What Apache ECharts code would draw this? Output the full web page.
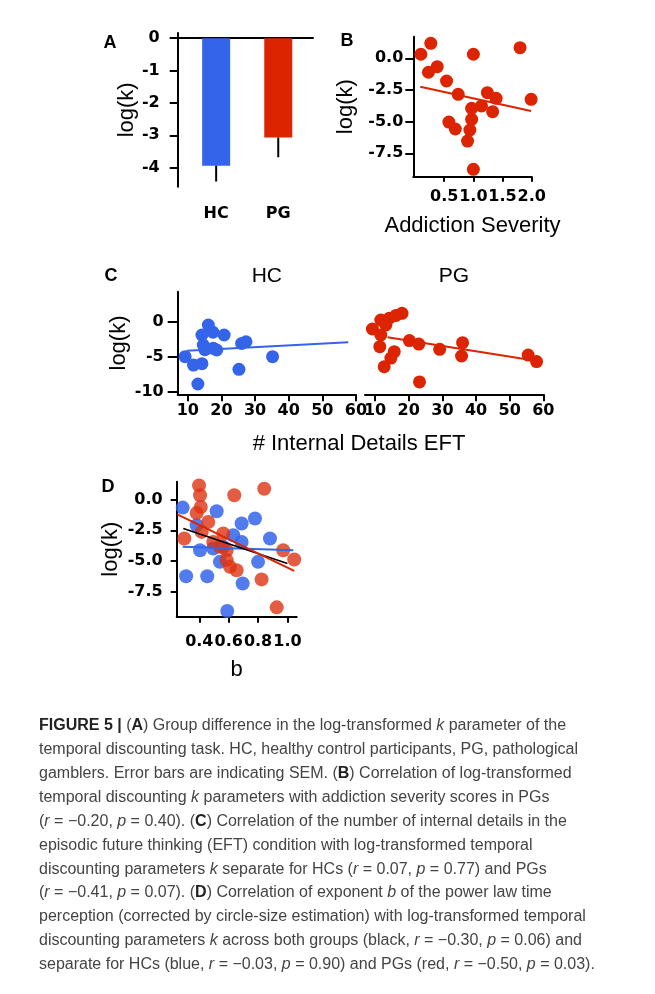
<!DOCTYPE html>
<html><head><meta charset="utf-8">
<script src="https://cdn.jsdelivr.net/npm/echarts@6/dist/echarts.min.js"></script>
<style>html,body{margin:0;padding:0;background:#fff}#c{width:655px;height:994px}</style>
</head><body><div id="c"></div>
<script>
// ---------- DATA ----------
// Panel A: group means of log(k) with SEM
const groups = ['HC', 'PG'];
const meanLogK = [-3.94, -3.07];
const semLogK = [0.49, 0.61];

// Panel B: addiction severity vs log(k) (PG)
const sevX = [0.10, 0.27, 0.23, 0.38, 0.54, 0.74, 1.00, 1.80, 1.99, 1.24, 1.39, 1.33, 1.14, 0.97, 0.97, 0.94, 0.90, 0.58, 0.69, 1.00];
const sevY = [0.32, 1.18, -1.10, -0.66, -1.79, -2.84, 0.32, 0.84, -3.24, -2.71, -3.16, -4.21, -3.76, -3.95, -4.82, -5.66, -6.53, -5.03, -5.58, -8.76];
const sevFitX = [0.09, 1.99];
const sevFitY = [-2.24, -4.16];

// Panel C: # internal details EFT vs log(k)
const hcEftX = [16.1, 14.2, 17.5, 20.8, 14.6, 17.6, 18.6, 15.1, 26.0, 27.3, 35.2, 9.2, 11.7, 14.2, 25.2, 13.0];
const hcEftY = [-0.47, -1.9, -1.5, -1.9, -3.33, -3.8, -4.04, -4.0, -3.1, -2.86, -5.0, -5.0, -6.2, -6.0, -6.8, -8.9];
const hcEftFitX = [9.7, 57.7];
const hcEftFitY = [-4.14, -2.95];
const pgEftX = [18.0, 16.2, 14.2, 11.7, 13.2, 9.2, 11.7, 11.4, 20.2, 23.0, 29.2, 36.0, 35.7, 55.5, 58.0, 15.7, 14.7, 12.7, 23.2];
const pgEftY = [1.2, 0.9, 0.5, 0.24, -0.47, -1.04, -1.9, -3.57, -2.7, -3.2, -3.95, -3.0, -4.9, -4.76, -5.7, -4.28, -5.2, -6.43, -8.6];
const pgEftFitX = [13.7, 58.2];
const pgEftFitY = [-2.23, -5.6];

// Panel D: exponent b vs log(k)
const bHcX = [0.287, 0.518, 0.688, 0.779, 0.382, 0.631, 0.688, 0.881, 0.405, 0.495, 0.563, 0.54, 0.80, 0.31, 0.454, 0.695, 0.59];
const bHcY = [-0.65, -0.95, -1.95, -1.54, -2.09, -2.9, -3.45, -3.17, -4.12, -3.98, -3.85, -5.07, -5.07, -6.24, -6.24, -6.83, -9.08];
const bPgX = [0.398, 0.405, 0.638, 0.842, 0.41, 0.382, 0.461, 0.298, 0.416, 0.563, 0.495, 0.54, 0.586, 0.586, 0.609, 0.654, 0.824, 0.971, 1.046, 0.927];
const bPgY = [1.16, 0.35, 0.35, 0.89, -0.6, -1.09, -1.82, -3.17, -2.63, -2.76, -3.45, -3.85, -4.12, -4.93, -5.48, -5.75, -6.5, -4.12, -4.88, -8.78];
const bAllFitX = [0.291, 1.0];
const bAllFitY = [-2.36, -5.2];
const bHcFitX = [0.287, 1.04];
const bHcFitY = [-3.85, -4.12];
const bPgFitX = [0.25, 1.046];
const bPgFitY = [-1.2, -5.8];

// Tick labels
const ticksA = [0, -1, -2, -3, -4];
const ticksBy = [0, -2.5, -5, -7.5];
const ticksBx = [0.5, 1.0, 1.5, 2.0];
const ticksCy = [0, -5, -10];
const ticksCx = [10, 20, 30, 40, 50, 60];
const ticksDy = [0, -2.5, -5, -7.5];
const ticksDx = [0.4, 0.6, 0.8, 1.0];

// Caption
const captionLines = [
  '{fb|FIGURE 5 |} ({b|A}) Group difference in the log-transformed {i|k} parameter of the',
  'temporal discounting task. HC, healthy control participants, PG, pathological',
  'gamblers. Error bars are indicating SEM. ({b|B}) Correlation of log-transformed',
  'temporal discounting {i|k} parameters with addiction severity scores in PGs',
  '({i|r} = \u22120.20, {i|p} = 0.40). ({b|C}) Correlation of the number of internal details in the',
  'episodic future thinking (EFT) condition with log-transformed temporal',
  'discounting parameters {i|k} separate for HCs ({i|r} = 0.07, {i|p} = 0.77) and PGs',
  '({i|r} = \u22120.41, {i|p} = 0.07). ({b|D}) Correlation of exponent {i|b} of the power law time',
  'perception (corrected by circle-size estimation) with log-transformed temporal',
  'discounting parameters {i|k} across both groups (black, {i|r} = \u22120.30, {i|p} = 0.06) and',
  'separate for HCs (blue, {i|r} = \u22120.03, {i|p} = 0.90) and PGs (red, {i|r} = \u22120.50, {i|p} = 0.03).'
];

// ---------- STYLE ----------
const BLUE = '#3464ea';
const RED = '#dc2400';
const FONT = "'Liberation Sans', Arial, sans-serif";
const TICKFONT = "'DejaVu Sans', sans-serif";
const zip = (xs, ys) => xs.map((x, i) => [x, ys[i]]);
const f1 = v => v.toFixed(1);
const f0 = v => String(v);

function axis(o) {
  return {
    type: 'value', gridIndex: o.grid, min: o.min, max: o.max, show: o.show !== false,
    axisLine: { show: true, onZero: false, lineStyle: { color: '#000', width: 2 } },
    axisTick: { show: !!o.ticks, length: o.tickLen || 7, customValues: o.ticks, lineStyle: { color: '#000', width: 2 } },
    axisLabel: { show: !!o.ticks, customValues: o.ticks, formatter: o.fmt, margin: o.margin, color: '#000',
      fontFamily: TICKFONT, fontWeight: 'bold', fontSize: 16 },
    splitLine: { show: false },
    name: o.name || '', nameLocation: 'middle', nameGap: o.nameGap || 0,
    nameTextStyle: { fontFamily: FONT, fontSize: 22, color: '#000' }
  };
}

const grids = [
  { left: 177.7, top: 33, width: 135.3, height: 153.7 },   // A frame
  { left: 185.1, top: 33, width: 124.2, height: 153.7 },   // A bars
  { left: 413.3, top: 36.7, width: 118.4, height: 140 },   // B
  { left: 177.7, top: 291.7, width: 178.3, height: 102.6 },// C HC
  { left: 365, top: 291.7, width: 178.3, height: 102.6 },  // C PG
  { left: 176.7, top: 481.7, width: 120, height: 135 }     // D
];

const xAxes = [
  { type: 'value', gridIndex: 0, min: 0, max: 1,
    axisLine: { show: true, onZero: true, lineStyle: { color: '#000', width: 2 } },
    axisTick: { show: false }, axisLabel: { show: false }, splitLine: { show: false } },
  { type: 'category', gridIndex: 1, data: groups,
    axisLine: { show: false }, axisTick: { show: false },
    axisLabel: { margin: 19, color: '#000', fontFamily: TICKFONT, fontWeight: 'bold', fontSize: 16 } },
  axis({ grid: 2, min: -0.03, max: 2.0, ticks: ticksBx, fmt: f1, margin: 12, tickLen: 5, name: 'Addiction Severity', nameGap: 38 }),
  axis({ grid: 3, min: 7, max: 60, ticks: ticksCx, fmt: f0, margin: 9, tickLen: 7 }),
  axis({ grid: 4, min: 7, max: 60, ticks: ticksCx, fmt: f0, margin: 9, tickLen: 7 }),
  axis({ grid: 5, min: 0.246, max: 1.063, ticks: ticksDx, fmt: f1, margin: 17, tickLen: 6, name: 'b', nameGap: 42 })
];

const yAxes = [
  axis({ grid: 0, min: -4.59, max: 0.16, ticks: ticksA, fmt: f0, margin: 18, tickLen: 8, name: 'log(k)', nameGap: 39 }),
  { type: 'value', gridIndex: 1, min: -4.59, max: 0.16, show: false },
  axis({ grid: 2, min: -9.345, max: 1.705, ticks: ticksBy, fmt: f1, margin: 10, tickLen: 8, name: 'log(k)', nameGap: 56 }),
  axis({ grid: 3, min: -10.37, max: 4.29, ticks: ticksCy, fmt: f0, margin: 14, tickLen: 10, name: 'log(k)', nameGap: 48 }),
  { type: 'value', gridIndex: 4, min: -10.37, max: 4.29, show: false },
  axis({ grid: 5, min: -9.54, max: 1.46, ticks: ticksDy, fmt: f1, margin: 14, tickLen: 6, name: 'log(k)', nameGap: 55 })
];

function fitLine(xi, yi, xs, ys, color, w) {
  return { type: 'line', xAxisIndex: xi, yAxisIndex: yi, data: zip(xs, ys), symbol: 'none',
    lineStyle: { color: color, width: w || 2 }, silent: true, z: 5 };
}
function scatter(xi, yi, xs, ys, color, size, opacity) {
  return { type: 'scatter', xAxisIndex: xi, yAxisIndex: yi, data: zip(xs, ys), symbolSize: size,
    itemStyle: { color: color, opacity: opacity || 1 }, silent: true, z: 3 };
}

const series = [
  { type: 'bar', xAxisIndex: 1, yAxisIndex: 1, barWidth: 28,
    data: meanLogK.map((v, i) => ({ value: v, itemStyle: { color: [BLUE, RED][i] } })) },
  { type: 'custom', xAxisIndex: 1, yAxisIndex: 1, z: 4,
    data: groups.map((g, i) => [i, meanLogK[i], meanLogK[i] - semLogK[i]]),
    renderItem: (params, api) => {
      const p1 = api.coord([api.value(0), api.value(1)]);
      const p2 = api.coord([api.value(0), api.value(2)]);
      return { type: 'line', shape: { x1: p1[0], y1: p1[1], x2: p2[0], y2: p2[1] }, style: { stroke: '#000', lineWidth: 2 } };
    } },
  scatter(2, 2, sevX, sevY, RED, 13),
  fitLine(2, 2, sevFitX, sevFitY, RED, 2),
  scatter(3, 3, hcEftX, hcEftY, BLUE, 13),
  fitLine(3, 3, hcEftFitX, hcEftFitY, BLUE, 2),
  scatter(4, 4, pgEftX, pgEftY, RED, 13),
  fitLine(4, 4, pgEftFitX, pgEftFitY, RED, 2),
  scatter(5, 5, bHcX, bHcY, BLUE, 14, 0.85),
  scatter(5, 5, bPgX, bPgY, '#dd3311', 14, 0.8),
  fitLine(5, 5, bHcFitX, bHcFitY, BLUE, 2),
  fitLine(5, 5, bAllFitX, bAllFitY, '#000', 1.6),
  fitLine(5, 5, bPgFitX, bPgFitY, RED, 2)
];

function txt(x, y, s, size, weight, align) {
  return { type: 'text', x: x, y: y, silent: true,
    style: { text: s, fontFamily: FONT, fontSize: size, fontWeight: weight || 'normal', fill: '#000',
      align: align || 'center', verticalAlign: 'middle' } };
}

const CAP_SIZE = 16;
const capRich = {
  fb: { fontFamily: FONT, fontSize: CAP_SIZE, fontWeight: 'bold', fill: '#222' },
  b: { fontFamily: FONT, fontSize: CAP_SIZE, fontWeight: 'bold', fill: '#222' },
  i: { fontFamily: FONT, fontSize: CAP_SIZE, fontStyle: 'italic', fill: '#444' }
};
const graphics = [
  txt(110, 43, 'A', 18, 'bold'),
  txt(347, 41.5, 'B', 18, 'bold'),
  txt(111, 276, 'C', 18, 'bold'),
  txt(108, 487, 'D', 18, 'bold'),
  txt(266.8, 276, 'HC', 21),
  txt(454, 276, 'PG', 21),
  txt(359, 444, '# Internal Details EFT', 22)
].concat(captionLines.map((s, i) => ({
  type: 'text', x: 39, y: 726 + i * 23.85, silent: true,
  style: { text: s, rich: capRich, fontFamily: FONT, fontSize: CAP_SIZE, fill: '#444', align: 'left', verticalAlign: 'middle' }
})));

const chart = echarts.init(document.getElementById('c'), null, { renderer: 'canvas', width: 655, height: 994 });
chart.setOption({
  animation: false,
  backgroundColor: '#fff',
  grid: grids,
  xAxis: xAxes,
  yAxis: yAxes,
  series: series,
  graphic: graphics
});
</script>
</body></html>
